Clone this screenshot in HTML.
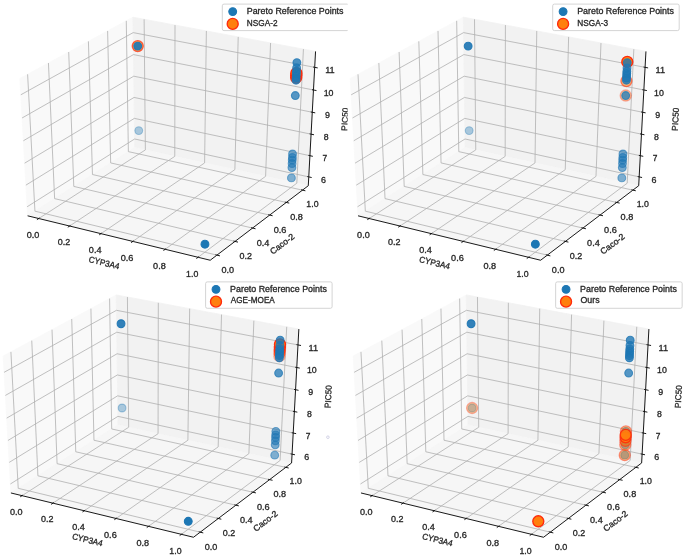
<!DOCTYPE html>
<html><head><meta charset="utf-8"><style>
html,body{margin:0;padding:0;background:#fff;overflow:hidden;}
svg{display:block;}
text{font-family:"Liberation Sans",sans-serif;font-size:8.6px;fill:#262626;stroke:#262626;stroke-width:0.3px;}
</style></head><body>
<svg width="685" height="557" viewBox="0 0 685 557">
<defs><g id="ax"><polygon points="27.52,215.81 134.65,147.58 132.87,17.20 19.77,78.51" fill="#f9f9f9" stroke="#f9f9f9" stroke-width="0.84"/>
<polygon points="134.65,147.58 308.19,185.73 315.45,51.42 132.87,17.20" fill="#f2f2f2" stroke="#f2f2f2" stroke-width="0.84"/>
<polygon points="27.52,215.81 210.11,260.24 308.19,185.73 134.65,147.58" fill="#f6f6f6" stroke="#f6f6f6" stroke-width="0.84"/>
<line x1="27.52" y1="215.81" x2="210.11" y2="260.24" stroke="#000" stroke-width="0.9"/>
<text x="88.50" y="265.76" transform="rotate(13.68 104.20 262.80)" textLength="31.21" lengthAdjust="spacingAndGlyphs">CYP3A4</text>
<polyline points="38.66,218.52 145.26,149.91 144.01,19.29" fill="none" stroke="#b0b0b0" stroke-width="0.8"/>
<polyline points="69.52,226.03 174.67,156.38 174.90,25.08" fill="none" stroke="#b0b0b0" stroke-width="0.8"/>
<polyline points="100.87,233.66 204.50,162.93 206.26,30.96" fill="none" stroke="#b0b0b0" stroke-width="0.8"/>
<polyline points="132.72,241.41 234.78,169.59 238.11,36.92" fill="none" stroke="#b0b0b0" stroke-width="0.8"/>
<polyline points="165.09,249.28 265.50,176.34 270.47,42.99" fill="none" stroke="#b0b0b0" stroke-width="0.8"/>
<polyline points="197.98,257.29 296.70,183.20 303.33,49.15" fill="none" stroke="#b0b0b0" stroke-width="0.8"/>
<line x1="39.57" y1="217.93" x2="36.82" y2="219.70" stroke="#000" stroke-width="0.9"/>
<text x="26.59" y="237.78" textLength="12.64" lengthAdjust="spacingAndGlyphs">0.0</text>
<line x1="70.42" y1="225.43" x2="67.70" y2="227.23" stroke="#000" stroke-width="0.9"/>
<text x="57.58" y="245.39" textLength="12.48" lengthAdjust="spacingAndGlyphs">0.2</text>
<line x1="101.76" y1="233.05" x2="99.08" y2="234.88" stroke="#000" stroke-width="0.9"/>
<text x="88.75" y="253.12" textLength="12.63" lengthAdjust="spacingAndGlyphs">0.4</text>
<line x1="133.60" y1="240.79" x2="130.95" y2="242.65" stroke="#000" stroke-width="0.9"/>
<text x="120.63" y="260.98" textLength="12.71" lengthAdjust="spacingAndGlyphs">0.6</text>
<line x1="165.95" y1="248.65" x2="163.35" y2="250.55" stroke="#000" stroke-width="0.9"/>
<text x="153.02" y="268.97" textLength="12.67" lengthAdjust="spacingAndGlyphs">0.8</text>
<line x1="198.83" y1="256.65" x2="196.27" y2="258.57" stroke="#000" stroke-width="0.9"/>
<text x="185.98" y="277.08" textLength="12.19" lengthAdjust="spacingAndGlyphs">1.0</text>
<line x1="308.19" y1="185.73" x2="210.11" y2="260.24" stroke="#000" stroke-width="0.9"/>
<text x="267.93" y="246.96" transform="rotate(-37.22 282.00 244.00)" textLength="28.15" lengthAdjust="spacingAndGlyphs">Caco-2</text>
<polyline points="27.51,74.31 34.83,211.16 216.82,255.14" fill="none" stroke="#b0b0b0" stroke-width="0.8"/>
<polyline points="48.35,63.01 54.52,198.62 234.88,241.42" fill="none" stroke="#b0b0b0" stroke-width="0.8"/>
<polyline points="68.61,52.03 73.69,186.41 252.45,228.07" fill="none" stroke="#b0b0b0" stroke-width="0.8"/>
<polyline points="88.32,41.35 92.36,174.52 269.54,215.08" fill="none" stroke="#b0b0b0" stroke-width="0.8"/>
<polyline points="107.51,30.95 110.56,162.93 286.18,202.44" fill="none" stroke="#b0b0b0" stroke-width="0.8"/>
<polyline points="126.18,20.83 128.29,151.63 302.38,190.13" fill="none" stroke="#b0b0b0" stroke-width="0.8"/>
<line x1="215.30" y1="254.77" x2="219.87" y2="255.88" stroke="#000" stroke-width="0.9"/>
<text x="221.34" y="272.97" textLength="12.64" lengthAdjust="spacingAndGlyphs">0.0</text>
<line x1="233.37" y1="241.06" x2="237.90" y2="242.13" stroke="#000" stroke-width="0.9"/>
<text x="239.38" y="259.11" textLength="12.48" lengthAdjust="spacingAndGlyphs">0.2</text>
<line x1="250.96" y1="227.72" x2="255.44" y2="228.77" stroke="#000" stroke-width="0.9"/>
<text x="256.62" y="245.63" textLength="12.63" lengthAdjust="spacingAndGlyphs">0.4</text>
<line x1="268.06" y1="214.74" x2="272.51" y2="215.76" stroke="#000" stroke-width="0.9"/>
<text x="273.60" y="232.52" textLength="12.71" lengthAdjust="spacingAndGlyphs">0.6</text>
<line x1="284.72" y1="202.11" x2="289.12" y2="203.10" stroke="#000" stroke-width="0.9"/>
<text x="290.12" y="219.75" textLength="12.67" lengthAdjust="spacingAndGlyphs">0.8</text>
<line x1="300.93" y1="189.81" x2="305.29" y2="190.78" stroke="#000" stroke-width="0.9"/>
<text x="306.24" y="207.32" textLength="12.19" lengthAdjust="spacingAndGlyphs">1.0</text>
<line x1="308.19" y1="185.73" x2="315.45" y2="51.42" stroke="#000" stroke-width="0.9"/>
<text x="333.16" y="121.96" transform="rotate(-86.91 344.90 119.00)" textLength="23.13" lengthAdjust="spacingAndGlyphs">PIC50</text>
<polyline points="308.66,176.88 134.53,138.98 27.02,206.79" fill="none" stroke="#b0b0b0" stroke-width="0.8"/>
<polyline points="309.81,155.70 134.25,118.38 25.79,185.15" fill="none" stroke="#b0b0b0" stroke-width="0.8"/>
<polyline points="310.97,134.16 133.97,97.45 24.55,163.15" fill="none" stroke="#b0b0b0" stroke-width="0.8"/>
<polyline points="312.16,112.25 133.67,76.19 23.29,140.76" fill="none" stroke="#b0b0b0" stroke-width="0.8"/>
<polyline points="313.36,89.98 133.38,54.58 22.00,117.98" fill="none" stroke="#b0b0b0" stroke-width="0.8"/>
<polyline points="314.59,67.33 133.08,32.62 20.69,94.80" fill="none" stroke="#b0b0b0" stroke-width="0.8"/>
<line x1="307.21" y1="176.57" x2="311.57" y2="177.52" stroke="#000" stroke-width="0.9"/>
<text x="320.90" y="182.50" textLength="4.94" lengthAdjust="spacingAndGlyphs">6</text>
<line x1="308.34" y1="155.38" x2="312.74" y2="156.32" stroke="#000" stroke-width="0.9"/>
<text x="322.33" y="161.34" textLength="4.67" lengthAdjust="spacingAndGlyphs">7</text>
<line x1="309.50" y1="133.85" x2="313.93" y2="134.77" stroke="#000" stroke-width="0.9"/>
<text x="323.54" y="139.83" textLength="4.84" lengthAdjust="spacingAndGlyphs">8</text>
<line x1="310.67" y1="111.95" x2="315.14" y2="112.86" stroke="#000" stroke-width="0.9"/>
<text x="324.79" y="117.95" textLength="4.94" lengthAdjust="spacingAndGlyphs">9</text>
<line x1="311.86" y1="89.69" x2="316.37" y2="90.57" stroke="#000" stroke-width="0.9"/>
<text x="323.54" y="95.71" textLength="9.81" lengthAdjust="spacingAndGlyphs">10</text>
<line x1="313.07" y1="67.04" x2="317.62" y2="67.91" stroke="#000" stroke-width="0.9"/>
<text x="325.08" y="73.08" textLength="9.53" lengthAdjust="spacingAndGlyphs">11</text></g><clipPath id="c0"><rect x="0.00" y="0.00" width="347.60" height="277.50"/></clipPath><clipPath id="c1"><rect x="347.60" y="0.00" width="338.00" height="277.50"/></clipPath><clipPath id="c2"><rect x="0.00" y="277.50" width="350.00" height="279.50"/></clipPath><clipPath id="c3"><rect x="350.00" y="277.50" width="335.00" height="279.50"/></clipPath><filter id="bl" x="-5%" y="-5%" width="110%" height="110%"><feGaussianBlur stdDeviation="0.55"/></filter></defs>
<g filter="url(#bl)">
<rect width="685" height="557" fill="#fff"/>
<g clip-path="url(#c0)"><g transform="translate(0.10 0.00) scale(1 1)">
<use href="#ax"/>
<circle cx="137.64" cy="46.09" r="5.5" fill="#ff7f0e" fill-opacity="0.70" stroke="#ff2a0a" stroke-opacity="0.70" stroke-width="1.35"/>
<circle cx="296.06" cy="77.69" r="5.5" fill="#ff7f0e" fill-opacity="0.90" stroke="#ff2a0a" stroke-opacity="0.90" stroke-width="1.35"/>
<circle cx="296.16" cy="75.41" r="5.5" fill="#ff7f0e" fill-opacity="1.00" stroke="#ff2a0a" stroke-opacity="1.00" stroke-width="1.35"/>
<circle cx="296.27" cy="73.13" r="5.5" fill="#ff7f0e" fill-opacity="1.00" stroke="#ff2a0a" stroke-opacity="1.00" stroke-width="1.35"/>
<circle cx="137.64" cy="46.09" r="3.9" fill="#1f77b4" fill-opacity="0.92" stroke="#1f77b4" stroke-opacity="0.92" stroke-width="1.1"/>
<circle cx="138.66" cy="130.60" r="3.9" fill="#1f77b4" fill-opacity="0.35" stroke="#1f77b4" stroke-opacity="0.35" stroke-width="1.1"/>
<circle cx="204.85" cy="244.21" r="3.9" fill="#1f77b4" fill-opacity="1.00" stroke="#1f77b4" stroke-opacity="1.00" stroke-width="1.1"/>
<circle cx="296.77" cy="62.60" r="3.9" fill="#1f77b4" fill-opacity="0.80" stroke="#1f77b4" stroke-opacity="0.80" stroke-width="1.1"/>
<circle cx="296.52" cy="67.88" r="3.9" fill="#1f77b4" fill-opacity="0.75" stroke="#1f77b4" stroke-opacity="0.75" stroke-width="1.1"/>
<circle cx="296.36" cy="71.31" r="3.9" fill="#1f77b4" fill-opacity="0.80" stroke="#1f77b4" stroke-opacity="0.80" stroke-width="1.1"/>
<circle cx="296.25" cy="73.59" r="3.9" fill="#1f77b4" fill-opacity="0.80" stroke="#1f77b4" stroke-opacity="0.80" stroke-width="1.1"/>
<circle cx="296.14" cy="75.87" r="3.9" fill="#1f77b4" fill-opacity="0.80" stroke="#1f77b4" stroke-opacity="0.80" stroke-width="1.1"/>
<circle cx="296.03" cy="78.14" r="3.9" fill="#1f77b4" fill-opacity="0.80" stroke="#1f77b4" stroke-opacity="0.80" stroke-width="1.1"/>
<circle cx="295.94" cy="80.19" r="3.9" fill="#1f77b4" fill-opacity="0.80" stroke="#1f77b4" stroke-opacity="0.80" stroke-width="1.1"/>
<circle cx="295.21" cy="95.53" r="3.9" fill="#1f77b4" fill-opacity="0.75" stroke="#1f77b4" stroke-opacity="0.75" stroke-width="1.1"/>
<circle cx="292.44" cy="154.00" r="3.9" fill="#1f77b4" fill-opacity="0.60" stroke="#1f77b4" stroke-opacity="0.60" stroke-width="1.1"/>
<circle cx="292.28" cy="157.51" r="3.9" fill="#1f77b4" fill-opacity="0.60" stroke="#1f77b4" stroke-opacity="0.60" stroke-width="1.1"/>
<circle cx="292.16" cy="160.08" r="3.9" fill="#1f77b4" fill-opacity="0.60" stroke="#1f77b4" stroke-opacity="0.60" stroke-width="1.1"/>
<circle cx="292.00" cy="163.49" r="3.9" fill="#1f77b4" fill-opacity="0.60" stroke="#1f77b4" stroke-opacity="0.60" stroke-width="1.1"/>
<circle cx="291.81" cy="167.53" r="3.9" fill="#1f77b4" fill-opacity="0.60" stroke="#1f77b4" stroke-opacity="0.60" stroke-width="1.1"/>
<circle cx="291.31" cy="177.91" r="3.9" fill="#1f77b4" fill-opacity="0.55" stroke="#1f77b4" stroke-opacity="0.55" stroke-width="1.1"/>
<rect x="222.2" y="4.1" width="126.5" height="26.5" rx="1.7" fill="#fff" fill-opacity="0.8" stroke="#ccc" stroke-width="0.84"/>
<circle cx="232.6" cy="11.6" r="3.9" fill="#1f77b4" stroke="#1f77b4" stroke-width="1.1"/>
<circle cx="232.6" cy="23.9" r="5.5" fill="#ff7f0e" stroke="#ff2a0a" stroke-width="1.35"/>
<text x="246.67" y="13.82" textLength="96.78" lengthAdjust="spacingAndGlyphs">Pareto Reference Points</text>
<text x="246.72" y="25.66" textLength="30.69" lengthAdjust="spacingAndGlyphs">NSGA-2</text>
</g></g>
<g clip-path="url(#c1)"><g transform="translate(330.50 0.00) scale(1 1)">
<use href="#ax"/>
<circle cx="296.80" cy="61.91" r="5.5" fill="#ff7f0e" fill-opacity="1.00" stroke="#ff2a0a" stroke-opacity="1.00" stroke-width="1.35"/>
<circle cx="295.89" cy="81.09" r="5.5" fill="#ff7f0e" fill-opacity="0.55" stroke="#ff2a0a" stroke-opacity="0.55" stroke-width="1.35"/>
<circle cx="295.21" cy="95.53" r="5.5" fill="#ff7f0e" fill-opacity="0.35" stroke="#ff2a0a" stroke-opacity="0.35" stroke-width="1.35"/>
<circle cx="137.64" cy="46.09" r="3.9" fill="#1f77b4" fill-opacity="0.92" stroke="#1f77b4" stroke-opacity="0.92" stroke-width="1.1"/>
<circle cx="138.66" cy="130.60" r="3.9" fill="#1f77b4" fill-opacity="0.35" stroke="#1f77b4" stroke-opacity="0.35" stroke-width="1.1"/>
<circle cx="204.85" cy="244.21" r="3.9" fill="#1f77b4" fill-opacity="1.00" stroke="#1f77b4" stroke-opacity="1.00" stroke-width="1.1"/>
<circle cx="296.77" cy="62.60" r="3.9" fill="#1f77b4" fill-opacity="0.80" stroke="#1f77b4" stroke-opacity="0.80" stroke-width="1.1"/>
<circle cx="296.52" cy="67.88" r="3.9" fill="#1f77b4" fill-opacity="0.75" stroke="#1f77b4" stroke-opacity="0.75" stroke-width="1.1"/>
<circle cx="296.36" cy="71.31" r="3.9" fill="#1f77b4" fill-opacity="0.80" stroke="#1f77b4" stroke-opacity="0.80" stroke-width="1.1"/>
<circle cx="296.25" cy="73.59" r="3.9" fill="#1f77b4" fill-opacity="0.80" stroke="#1f77b4" stroke-opacity="0.80" stroke-width="1.1"/>
<circle cx="296.14" cy="75.87" r="3.9" fill="#1f77b4" fill-opacity="0.80" stroke="#1f77b4" stroke-opacity="0.80" stroke-width="1.1"/>
<circle cx="296.03" cy="78.14" r="3.9" fill="#1f77b4" fill-opacity="0.80" stroke="#1f77b4" stroke-opacity="0.80" stroke-width="1.1"/>
<circle cx="295.94" cy="80.19" r="3.9" fill="#1f77b4" fill-opacity="0.80" stroke="#1f77b4" stroke-opacity="0.80" stroke-width="1.1"/>
<circle cx="295.21" cy="95.53" r="3.9" fill="#1f77b4" fill-opacity="0.75" stroke="#1f77b4" stroke-opacity="0.75" stroke-width="1.1"/>
<circle cx="292.44" cy="154.00" r="3.9" fill="#1f77b4" fill-opacity="0.60" stroke="#1f77b4" stroke-opacity="0.60" stroke-width="1.1"/>
<circle cx="292.28" cy="157.51" r="3.9" fill="#1f77b4" fill-opacity="0.60" stroke="#1f77b4" stroke-opacity="0.60" stroke-width="1.1"/>
<circle cx="292.16" cy="160.08" r="3.9" fill="#1f77b4" fill-opacity="0.60" stroke="#1f77b4" stroke-opacity="0.60" stroke-width="1.1"/>
<circle cx="292.00" cy="163.49" r="3.9" fill="#1f77b4" fill-opacity="0.60" stroke="#1f77b4" stroke-opacity="0.60" stroke-width="1.1"/>
<circle cx="291.81" cy="167.53" r="3.9" fill="#1f77b4" fill-opacity="0.60" stroke="#1f77b4" stroke-opacity="0.60" stroke-width="1.1"/>
<circle cx="291.31" cy="177.91" r="3.9" fill="#1f77b4" fill-opacity="0.55" stroke="#1f77b4" stroke-opacity="0.55" stroke-width="1.1"/>
<rect x="222.2" y="4.1" width="126.5" height="26.5" rx="1.7" fill="#fff" fill-opacity="0.8" stroke="#ccc" stroke-width="0.84"/>
<circle cx="232.6" cy="11.6" r="3.9" fill="#1f77b4" stroke="#1f77b4" stroke-width="1.1"/>
<circle cx="232.6" cy="23.9" r="5.5" fill="#ff7f0e" stroke="#ff2a0a" stroke-width="1.35"/>
<text x="246.67" y="13.82" textLength="96.78" lengthAdjust="spacingAndGlyphs">Pareto Reference Points</text>
<text x="246.72" y="25.66" textLength="30.80" lengthAdjust="spacingAndGlyphs">NSGA-3</text>
</g></g>
<g clip-path="url(#c2)"><g transform="translate(-16.60 277.80) scale(1 0.997)">
<use href="#ax"/>
<circle cx="296.01" cy="78.60" r="5.5" fill="#ff7f0e" fill-opacity="0.35" stroke="#ff2a0a" stroke-opacity="0.35" stroke-width="1.35"/>
<circle cx="296.16" cy="75.41" r="5.5" fill="#ff7f0e" fill-opacity="0.60" stroke="#ff2a0a" stroke-opacity="0.60" stroke-width="1.35"/>
<circle cx="296.30" cy="72.45" r="5.5" fill="#ff7f0e" fill-opacity="0.85" stroke="#ff2a0a" stroke-opacity="0.85" stroke-width="1.35"/>
<circle cx="296.44" cy="69.48" r="5.5" fill="#ff7f0e" fill-opacity="1.00" stroke="#ff2a0a" stroke-opacity="1.00" stroke-width="1.35"/>
<circle cx="296.57" cy="66.73" r="5.5" fill="#ff7f0e" fill-opacity="1.00" stroke="#ff2a0a" stroke-opacity="1.00" stroke-width="1.35"/>
<circle cx="137.64" cy="46.09" r="3.9" fill="#1f77b4" fill-opacity="0.92" stroke="#1f77b4" stroke-opacity="0.92" stroke-width="1.1"/>
<circle cx="138.66" cy="130.60" r="3.9" fill="#1f77b4" fill-opacity="0.35" stroke="#1f77b4" stroke-opacity="0.35" stroke-width="1.1"/>
<circle cx="204.85" cy="244.21" r="3.9" fill="#1f77b4" fill-opacity="1.00" stroke="#1f77b4" stroke-opacity="1.00" stroke-width="1.1"/>
<circle cx="296.77" cy="62.60" r="3.9" fill="#1f77b4" fill-opacity="0.80" stroke="#1f77b4" stroke-opacity="0.80" stroke-width="1.1"/>
<circle cx="296.52" cy="67.88" r="3.9" fill="#1f77b4" fill-opacity="0.75" stroke="#1f77b4" stroke-opacity="0.75" stroke-width="1.1"/>
<circle cx="296.36" cy="71.31" r="3.9" fill="#1f77b4" fill-opacity="0.80" stroke="#1f77b4" stroke-opacity="0.80" stroke-width="1.1"/>
<circle cx="296.25" cy="73.59" r="3.9" fill="#1f77b4" fill-opacity="0.80" stroke="#1f77b4" stroke-opacity="0.80" stroke-width="1.1"/>
<circle cx="296.14" cy="75.87" r="3.9" fill="#1f77b4" fill-opacity="0.80" stroke="#1f77b4" stroke-opacity="0.80" stroke-width="1.1"/>
<circle cx="296.03" cy="78.14" r="3.9" fill="#1f77b4" fill-opacity="0.80" stroke="#1f77b4" stroke-opacity="0.80" stroke-width="1.1"/>
<circle cx="295.94" cy="80.19" r="3.9" fill="#1f77b4" fill-opacity="0.80" stroke="#1f77b4" stroke-opacity="0.80" stroke-width="1.1"/>
<circle cx="295.21" cy="95.53" r="3.9" fill="#1f77b4" fill-opacity="0.75" stroke="#1f77b4" stroke-opacity="0.75" stroke-width="1.1"/>
<circle cx="292.44" cy="154.00" r="3.9" fill="#1f77b4" fill-opacity="0.60" stroke="#1f77b4" stroke-opacity="0.60" stroke-width="1.1"/>
<circle cx="292.28" cy="157.51" r="3.9" fill="#1f77b4" fill-opacity="0.60" stroke="#1f77b4" stroke-opacity="0.60" stroke-width="1.1"/>
<circle cx="292.16" cy="160.08" r="3.9" fill="#1f77b4" fill-opacity="0.60" stroke="#1f77b4" stroke-opacity="0.60" stroke-width="1.1"/>
<circle cx="292.00" cy="163.49" r="3.9" fill="#1f77b4" fill-opacity="0.60" stroke="#1f77b4" stroke-opacity="0.60" stroke-width="1.1"/>
<circle cx="291.81" cy="167.53" r="3.9" fill="#1f77b4" fill-opacity="0.60" stroke="#1f77b4" stroke-opacity="0.60" stroke-width="1.1"/>
<circle cx="291.31" cy="177.91" r="3.9" fill="#1f77b4" fill-opacity="0.55" stroke="#1f77b4" stroke-opacity="0.55" stroke-width="1.1"/>
<rect x="222.2" y="4.1" width="126.5" height="26.5" rx="1.7" fill="#fff" fill-opacity="0.8" stroke="#ccc" stroke-width="0.84"/>
<circle cx="232.6" cy="11.6" r="3.9" fill="#1f77b4" stroke="#1f77b4" stroke-width="1.1"/>
<circle cx="232.6" cy="23.9" r="5.5" fill="#ff7f0e" stroke="#ff2a0a" stroke-width="1.35"/>
<text x="246.67" y="13.82" textLength="96.78" lengthAdjust="spacingAndGlyphs">Pareto Reference Points</text>
<text x="247.38" y="25.66" textLength="44.04" lengthAdjust="spacingAndGlyphs">AGE-MOEA</text>
</g></g>
<g clip-path="url(#c3)"><g transform="translate(333.45 277.80) scale(1 0.997)">
<use href="#ax"/>
<circle cx="137.64" cy="46.09" r="3.9" fill="#1f77b4" fill-opacity="0.92" stroke="#1f77b4" stroke-opacity="0.92" stroke-width="1.1"/>
<circle cx="138.66" cy="130.60" r="3.9" fill="#1f77b4" fill-opacity="0.35" stroke="#1f77b4" stroke-opacity="0.35" stroke-width="1.1"/>
<circle cx="204.85" cy="244.21" r="3.9" fill="#1f77b4" fill-opacity="1.00" stroke="#1f77b4" stroke-opacity="1.00" stroke-width="1.1"/>
<circle cx="296.77" cy="62.60" r="3.9" fill="#1f77b4" fill-opacity="0.80" stroke="#1f77b4" stroke-opacity="0.80" stroke-width="1.1"/>
<circle cx="296.52" cy="67.88" r="3.9" fill="#1f77b4" fill-opacity="0.75" stroke="#1f77b4" stroke-opacity="0.75" stroke-width="1.1"/>
<circle cx="296.36" cy="71.31" r="3.9" fill="#1f77b4" fill-opacity="0.80" stroke="#1f77b4" stroke-opacity="0.80" stroke-width="1.1"/>
<circle cx="296.25" cy="73.59" r="3.9" fill="#1f77b4" fill-opacity="0.80" stroke="#1f77b4" stroke-opacity="0.80" stroke-width="1.1"/>
<circle cx="296.14" cy="75.87" r="3.9" fill="#1f77b4" fill-opacity="0.80" stroke="#1f77b4" stroke-opacity="0.80" stroke-width="1.1"/>
<circle cx="296.03" cy="78.14" r="3.9" fill="#1f77b4" fill-opacity="0.80" stroke="#1f77b4" stroke-opacity="0.80" stroke-width="1.1"/>
<circle cx="295.94" cy="80.19" r="3.9" fill="#1f77b4" fill-opacity="0.80" stroke="#1f77b4" stroke-opacity="0.80" stroke-width="1.1"/>
<circle cx="295.21" cy="95.53" r="3.9" fill="#1f77b4" fill-opacity="0.75" stroke="#1f77b4" stroke-opacity="0.75" stroke-width="1.1"/>
<circle cx="292.44" cy="154.00" r="3.9" fill="#1f77b4" fill-opacity="0.60" stroke="#1f77b4" stroke-opacity="0.60" stroke-width="1.1"/>
<circle cx="292.28" cy="157.51" r="3.9" fill="#1f77b4" fill-opacity="0.60" stroke="#1f77b4" stroke-opacity="0.60" stroke-width="1.1"/>
<circle cx="292.16" cy="160.08" r="3.9" fill="#1f77b4" fill-opacity="0.60" stroke="#1f77b4" stroke-opacity="0.60" stroke-width="1.1"/>
<circle cx="292.00" cy="163.49" r="3.9" fill="#1f77b4" fill-opacity="0.60" stroke="#1f77b4" stroke-opacity="0.60" stroke-width="1.1"/>
<circle cx="291.81" cy="167.53" r="3.9" fill="#1f77b4" fill-opacity="0.60" stroke="#1f77b4" stroke-opacity="0.60" stroke-width="1.1"/>
<circle cx="291.31" cy="177.91" r="3.9" fill="#1f77b4" fill-opacity="0.55" stroke="#1f77b4" stroke-opacity="0.55" stroke-width="1.1"/>
<circle cx="138.66" cy="130.60" r="5.5" fill="#ff7f0e" fill-opacity="0.35" stroke="#ff2a0a" stroke-opacity="0.35" stroke-width="1.35"/>
<circle cx="291.31" cy="177.91" r="5.5" fill="#ff7f0e" fill-opacity="0.45" stroke="#ff2a0a" stroke-opacity="0.45" stroke-width="1.35"/>
<circle cx="291.81" cy="167.51" r="5.5" fill="#ff7f0e" fill-opacity="0.45" stroke="#ff2a0a" stroke-opacity="0.45" stroke-width="1.35"/>
<circle cx="292.00" cy="163.49" r="5.5" fill="#ff7f0e" fill-opacity="0.60" stroke="#ff2a0a" stroke-opacity="0.60" stroke-width="1.35"/>
<circle cx="292.44" cy="154.00" r="5.5" fill="#ff7f0e" fill-opacity="0.45" stroke="#ff2a0a" stroke-opacity="0.45" stroke-width="1.35"/>
<circle cx="292.16" cy="159.99" r="5.5" fill="#ff7f0e" fill-opacity="0.85" stroke="#ff2a0a" stroke-opacity="0.85" stroke-width="1.35"/>
<circle cx="292.28" cy="157.49" r="5.5" fill="#ff7f0e" fill-opacity="0.90" stroke="#ff2a0a" stroke-opacity="0.90" stroke-width="1.35"/>
<circle cx="204.85" cy="244.21" r="5.5" fill="#ff7f0e" fill-opacity="1.00" stroke="#ff2a0a" stroke-opacity="1.00" stroke-width="1.35"/>
<rect x="222.2" y="4.1" width="126.5" height="26.5" rx="1.7" fill="#fff" fill-opacity="0.8" stroke="#ccc" stroke-width="0.84"/>
<circle cx="232.6" cy="11.6" r="3.9" fill="#1f77b4" stroke="#1f77b4" stroke-width="1.1"/>
<circle cx="232.6" cy="23.9" r="5.5" fill="#ff7f0e" stroke="#ff2a0a" stroke-width="1.35"/>
<text x="246.67" y="13.82" textLength="96.78" lengthAdjust="spacingAndGlyphs">Pareto Reference Points</text>
<text x="246.98" y="25.66" textLength="19.12" lengthAdjust="spacingAndGlyphs">Ours</text>
</g></g>
<circle cx="327.9" cy="437.2" r="1.3" fill="none" stroke="#c8c8e0" stroke-width="0.8"/>
</g>
</svg>
</body></html>
